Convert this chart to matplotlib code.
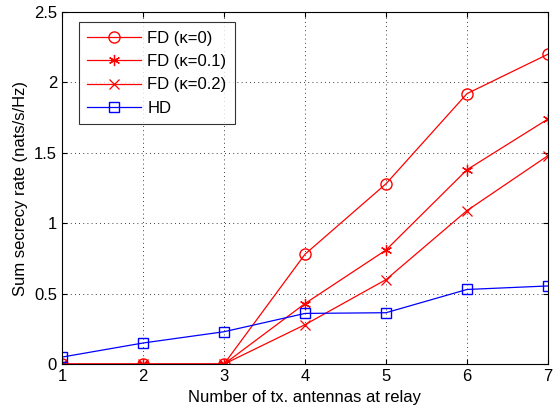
import numpy as np
import matplotlib.pyplot as plt

plt.rcParams['font.family'] = ['Liberation Sans', 'DejaVu Sans']

antennas = [1, 2, 3, 4, 5, 6, 7]
fd_k0 = [0, 0, 0, 0.78, 1.28, 1.92, 2.20]
fd_k01 = [0, 0, 0, 0.43, 0.81, 1.38, 1.74]
fd_k02 = [0, 0, 0, 0.28, 0.60, 1.09, 1.48]
hd = [0.05, 0.15, 0.23, 0.36, 0.365, 0.53, 0.555]

fig = plt.figure(figsize=(5.53, 4.11), dpi=100)
ax = fig.add_axes([0.112, 0.114, 0.879, 0.857])

ax.plot(antennas, fd_k0, 'r-o', mfc='none', ms=8, lw=0.9, label='FD (\u03ba=0)')
ax.plot(antennas, fd_k01, 'r-', marker=(6, 2, 0), ms=8, mew=0.9, lw=0.9, label='FD (\u03ba=0.1)')
ax.plot(antennas, fd_k02, 'r-x', ms=7, mew=0.9, lw=0.9, label='FD (\u03ba=0.2)')
ax.plot(antennas, hd, 'b-s', mfc='none', ms=7, lw=0.9, label='HD')

ax.set_xlim(1, 7)
ax.set_ylim(0, 2.5)
ax.set_xticks(antennas)
ax.set_yticks([0, 0.5, 1, 1.5, 2, 2.5])
ax.set_yticklabels(['0', '0.5', '1', '1.5', '2', '2.5'])
ax.grid(True, color='k', linestyle=(0, (1, 4)), linewidth=0.6)
ax.tick_params(direction='in', labelsize=12, top=True, right=True)
ax.set_xlabel('Number of tx. antennas at relay', fontsize=12)
ax.set_ylabel('Sum secrecy rate (nats/s/Hz)', fontsize=12)

leg = ax.legend(loc='upper left', bbox_to_anchor=(0.035, 0.97), fontsize=12,
                fancybox=False, edgecolor='k', handlelength=3.2, borderpad=0.5,
                labelspacing=0.5, handletextpad=0.4, borderaxespad=0)
leg.get_frame().set_linewidth(0.8)

fig.savefig('out.png', dpi=100)
